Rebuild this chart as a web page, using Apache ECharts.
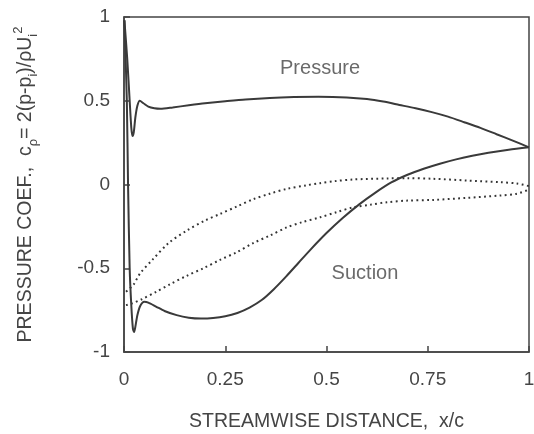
<!DOCTYPE html>
<html>
<head>
<meta charset="utf-8">
<script src="https://cdn.jsdelivr.net/npm/echarts@6/dist/echarts.min.js"></script>
<style>
html,body{margin:0;padding:0;background:#fff;}
#chart{width:534px;height:434px;}
</style>
</head>
<body>
<div id="chart"></div>
<script>
// ---- data ----
const xTicks = [0, 0.25, 0.5, 0.75, 1];
const yTicks = [-1, -0.5, 0, 0.5, 1];

const pressureX = [0.001, 0.008, 0.014, 0.018, 0.021, 0.024, 0.028, 0.033, 0.039, 0.048, 0.06, 0.075, 0.09, 0.12, 0.16, 0.2, 0.25, 0.3, 0.36, 0.42, 0.48, 0.55, 0.6, 0.64, 0.68, 0.72, 0.76, 0.8, 0.84, 0.88, 0.92, 0.96, 1.0];
const pressureY = [0.98, 0.75, 0.5, 0.34, 0.29, 0.31, 0.40, 0.47, 0.50, 0.485, 0.465, 0.455, 0.452, 0.46, 0.473, 0.485, 0.497, 0.508, 0.517, 0.522, 0.524, 0.52, 0.51, 0.495, 0.475, 0.455, 0.432, 0.405, 0.372, 0.338, 0.30, 0.262, 0.222];

const suctionX = [0.001, 0.007, 0.010, 0.014, 0.018, 0.022, 0.025, 0.028, 0.033, 0.04, 0.05, 0.06, 0.08, 0.1, 0.13, 0.16, 0.19, 0.22, 0.25, 0.28, 0.31, 0.34, 0.37, 0.40, 0.43, 0.46, 0.5, 0.54, 0.58, 0.62, 0.66, 0.70, 0.74, 0.78, 0.82, 0.86, 0.90, 0.95, 1.0];
const suctionY = [0.98, 0.5, 0.0, -0.5, -0.72, -0.86, -0.88, -0.85, -0.78, -0.725, -0.70, -0.705, -0.73, -0.755, -0.78, -0.795, -0.80, -0.797, -0.787, -0.767, -0.735, -0.69, -0.625, -0.55, -0.47, -0.39, -0.29, -0.20, -0.12, -0.05, 0.012, 0.058, 0.094, 0.124, 0.15, 0.172, 0.19, 0.208, 0.222];

const upperDotX = [0.005, 0.012, 0.023, 0.04, 0.07, 0.11, 0.155, 0.2, 0.237, 0.28, 0.319, 0.36, 0.402, 0.45, 0.484, 0.52, 0.566, 0.649, 0.7, 0.764, 0.846, 0.928, 0.97, 1.0];
const upperDotY = [-0.64, -0.625, -0.6, -0.53, -0.45, -0.35, -0.275, -0.215, -0.176, -0.13, -0.088, -0.055, -0.026, -0.005, 0.008, 0.02, 0.03, 0.036, 0.038, 0.034, 0.024, 0.014, 0.006, -0.01];

const lowerDotX = [0.005, 0.02, 0.044, 0.08, 0.114, 0.155, 0.196, 0.237, 0.278, 0.319, 0.36, 0.402, 0.44, 0.484, 0.525, 0.566, 0.61, 0.649, 0.7, 0.764, 0.846, 0.928, 0.97, 1.0];
const lowerDotY = [-0.72, -0.71, -0.685, -0.64, -0.595, -0.545, -0.5, -0.45, -0.405, -0.35, -0.305, -0.256, -0.225, -0.196, -0.165, -0.136, -0.12, -0.106, -0.096, -0.092, -0.08, -0.066, -0.055, -0.03];

const annotX = [0.484, 0.595];
const annotY = [0.695, -0.533];
const annotText = ['Pressure', 'Suction'];

const xTitle = 'STREAMWISE DISTANCE,  x/c';
const yTitle = 'PRESSURE COEF.,  c{sub|ρ}= 2(p-p{sub|i})/ρU{sub|i}{sup|2}';

// ---- build ----
const zip = (xs, ys) => xs.map((x, i) => [x, ys[i]]);
const FONT = 'Liberation Sans, Arial, Helvetica, sans-serif';
const INK = '#3a3a3a';
const TXT = '#454545';

const chart = echarts.init(document.getElementById('chart'), null, {renderer: 'canvas'});

const solidLine = (name, data) => ({
  name, type: 'line', data, showSymbol: false, symbol: 'none', smooth: 0.25,
  lineStyle: {color: INK, width: 2}, z: 3, animation: false
});
const dotLine = (name, data) => ({
  name, type: 'line', data, showSymbol: false, symbol: 'none', smooth: 0.3,
  lineStyle: {color: '#333', width: 2, type: [1.8, 3.4], cap: 'butt'}, z: 2, animation: false
});

chart.setOption({
  animation: false,
  backgroundColor: '#fff',
  grid: {left: 124, right: 5, top: 17, bottom: 82, containLabel: false, outerBoundsMode: 'none',
         show: true, borderColor: '#444', borderWidth: 1.5, backgroundColor: 'transparent'},
  xAxis: {
    type: 'value', min: 0, max: 1, interval: 0.25,
    axisLine: {show: true, onZero: false, lineStyle: {color: '#444', width: 1.5}},
    axisTick: {show: true, inside: true, length: 6, lineStyle: {color: '#444', width: 1.5}},
    splitLine: {show: false},
    axisLabel: {
      margin: 18, color: TXT, fontSize: 19, fontFamily: FONT,
      formatter: v => { const t = xTicks.find(k => Math.abs(k - v) < 1e-9); return t === undefined ? '' : String(t); }
    },
    name: xTitle, nameLocation: 'middle', nameGap: 60,
    nameTextStyle: {color: TXT, fontSize: 19.5, fontFamily: FONT}
  },
  yAxis: {
    type: 'value', min: -1, max: 1, interval: 0.5,
    axisLine: {show: true, onZero: false, lineStyle: {color: '#444', width: 1.5}},
    axisTick: {show: true, inside: true, length: 6, lineStyle: {color: '#444', width: 1.5}},
    splitLine: {show: false},
    axisLabel: {
      margin: 14, color: TXT, fontSize: 19, fontFamily: FONT,
      formatter: v => { const t = yTicks.find(k => Math.abs(k - v) < 1e-9); return t === undefined ? '' : String(t); }
    },
    name: yTitle, nameLocation: 'middle', nameGap: 84,
    nameTextStyle: {
      color: TXT, fontSize: 19.5, fontFamily: FONT, lineHeight: 28,
      rich: {
        sub: {fontSize: 13, lineHeight: 12, verticalAlign: 'bottom', color: TXT, fontFamily: FONT},
        sup: {fontSize: 13, lineHeight: 12, verticalAlign: 'top', color: TXT, fontFamily: FONT}
      }
    }
  },
  series: [
    dotLine('upperDot', zip(upperDotX, upperDotY)),
    dotLine('lowerDot', zip(lowerDotX, lowerDotY)),
    solidLine('pressure', zip(pressureX, pressureY)),
    solidLine('suction', zip(suctionX, suctionY)),
    {
      name: 'labels', type: 'scatter', symbolSize: 1,
      itemStyle: {color: 'rgba(0,0,0,0)'},
      data: annotX.map((x, i) => ({value: [x, annotY[i]], name: annotText[i]})),
      label: {show: true, position: 'inside', formatter: p => p.name, color: TXT, fontSize: 20, fontFamily: FONT},
      silent: true, z: 5
    }
  ]
});
</script>
</body>
</html>
